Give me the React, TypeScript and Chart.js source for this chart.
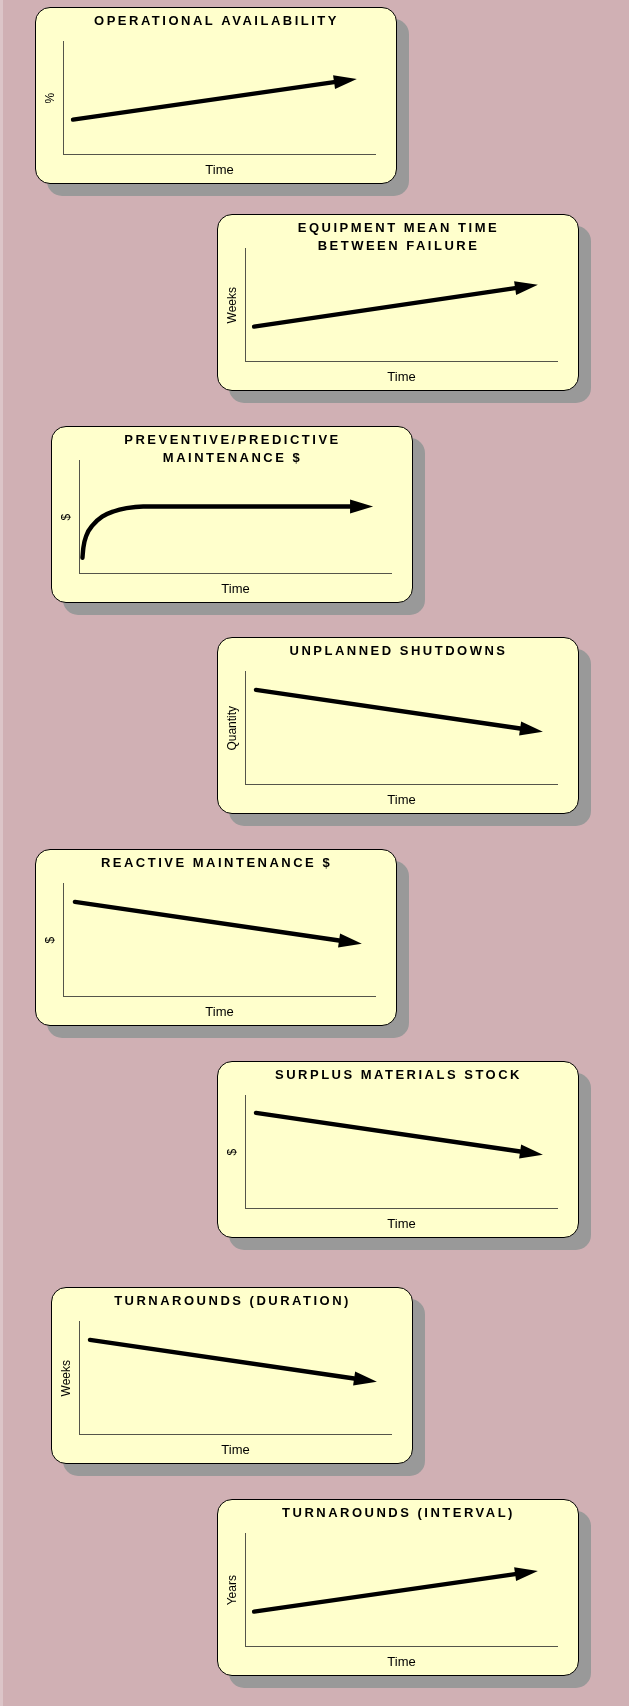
import React, { useEffect, useRef } from 'react';
import { Chart, registerables } from 'chart.js';

Chart.register(...registerables);

// ---- Data (units are arbitrary 0–100 on both axes) ----
const chartTitles: (string | string[])[] = [
  'OPERATIONAL AVAILABILITY',
  ['EQUIPMENT MEAN TIME', 'BETWEEN FAILURE'],
  ['PREVENTIVE/PREDICTIVE', 'MAINTENANCE $'],
  'UNPLANNED SHUTDOWNS',
  'REACTIVE MAINTENANCE $',
  'SURPLUS MATERIALS STOCK',
  'TURNAROUNDS (DURATION)',
  'TURNAROUNDS (INTERVAL)',
];
const yAxisLabels = ['%', 'Weeks', '$', 'Quantity', '$', '$', 'Weeks', 'Years'];
const xAxisLabel = 'Time';

const operationalAvailability = [{ x: 3.2, y: 31 }, { x: 86.6, y: 64.3 }];
const equipmentMtbf = [{ x: 2.9, y: 31 }, { x: 86.3, y: 65.2 }];
const preventiveMaintenance = [
  { x: 1.1, y: 14 },
  { x: 1.4, y: 23 },
  { x: 2.4, y: 34 },
  { x: 4.4, y: 43 },
  { x: 7.4, y: 50.5 },
  { x: 11.0, y: 55.1 },
  { x: 15.2, y: 58.1 },
  { x: 20.5, y: 59.6 },
  { x: 86.6, y: 59.6 },
];
const unplannedShutdowns = [{ x: 3.5, y: 84.1 }, { x: 87.9, y: 49.8 }];
const reactiveMaintenance = [{ x: 3.8, y: 84.1 }, { x: 88.2, y: 49.8 }];
const surplusStock = [{ x: 3.5, y: 85 }, { x: 87.9, y: 50.7 }];
const turnaroundDuration = [{ x: 3.5, y: 84.1 }, { x: 87.9, y: 49.8 }];
const turnaroundInterval = [{ x: 2.9, y: 31 }, { x: 86.3, y: 64.3 }];

const seriesList = [
  operationalAvailability,
  equipmentMtbf,
  preventiveMaintenance,
  unplannedShutdowns,
  reactiveMaintenance,
  surplusStock,
  turnaroundDuration,
  turnaroundInterval,
];
const curvedSeries = [false, false, true, false, false, false, false, false];

// ---- Layout / style (kept apart from data) ----
const cardPositions: [number, number][] = [
  [35, 7],
  [217, 214],
  [51, 426],
  [217, 637],
  [35, 849],
  [217, 1061],
  [51, 1287],
  [217, 1499],
];
const CARD_W = 362;
const CARD_H = 177;
const PAGE_BG = '#D0B0B4';
const PAGE_EDGE = '#DCC5C8';
const CARD_BG = '#FFFFCC';
const SHADOW = '#999999';
const AXIS_COLOR = '#55554a';
const FONT_FAMILY = "'Liberation Sans', Arial, Helvetica, sans-serif";

const arrowHeadPlugin = {
  id: 'arrowHeadAndSpacing',
  beforeDraw(chart: any) {
    (chart.ctx as any).letterSpacing = '2.5px';
  },
  afterDatasetsDraw(chart: any) {
    const ctx = chart.ctx as CanvasRenderingContext2D;
    chart.data.datasets.forEach((_ds: any, i: number) => {
      const pts = chart.getDatasetMeta(i).data;
      if (pts.length < 2) return;
      const a = pts[pts.length - 2];
      const b = pts[pts.length - 1];
      const dx = b.x - a.x;
      const dy = b.y - a.y;
      const len = Math.hypot(dx, dy) || 1;
      const ux = dx / len;
      const uy = dy / len;
      const headLen = 23;
      const halfW = 7;
      ctx.save();
      ctx.fillStyle = '#000000';
      ctx.beginPath();
      ctx.moveTo(b.x + ux * headLen, b.y + uy * headLen);
      ctx.lineTo(b.x - uy * halfW, b.y + ux * halfW);
      ctx.lineTo(b.x + uy * halfW, b.y - ux * halfW);
      ctx.closePath();
      ctx.fill();
      ctx.restore();
    });
    (ctx as any).letterSpacing = '0px';
  },
  afterDraw(chart: any) {
    (chart.ctx as any).letterSpacing = '0px';
  },
};

function TrendCard({ index }: { index: number }) {
  const canvasRef = useRef<HTMLCanvasElement | null>(null);

  useEffect(() => {
    const canvas = canvasRef.current;
    if (!canvas) return;
    const title = chartTitles[index];
    const lines = Array.isArray(title) ? title.length : 1;
    const hiddenGrid = {
      display: true,
      drawTicks: false,
      color: 'rgba(0,0,0,0)',
      lineWidth: 0,
      z: 1,
    };
    const axisBorder = { display: true, color: AXIS_COLOR, width: 1, z: 1 };
    const chart = new Chart(canvas, {
      type: 'line',
      data: {
        datasets: [
          {
            data: seriesList[index],
            borderColor: '#000000',
            borderWidth: 4.4,
            borderCapStyle: 'round',
            borderJoinStyle: 'round',
            pointRadius: 0,
            pointHoverRadius: 0,
            fill: false,
            tension: 0,
            cubicInterpolationMode: curvedSeries[index] ? 'monotone' : 'default',
            clip: false,
          } as any,
        ],
      },
      options: {
        responsive: false,
        animation: false,
        events: [],
        layout: { padding: { left: 22, right: 21, top: 2, bottom: 2 } },
        plugins: {
          legend: { display: false },
          tooltip: { enabled: false },
          title: {
            display: true,
            text: title as any,
            color: '#000000',
            font: { family: FONT_FAMILY, size: 13, weight: 'bold', lineHeight: 1.33 },
            padding: { top: 4.0, bottom: lines === 1 ? 11.7 : -5.6 },
          },
        },
        scales: {
          x: {
            type: 'linear',
            min: 0,
            max: 100,
            ticks: { display: false },
            grid: hiddenGrid as any,
            border: axisBorder as any,
            title: {
              display: true,
              text: xAxisLabel,
              color: '#000000',
              font: { family: FONT_FAMILY, size: 13, lineHeight: 1.2 },
              padding: { top: 8.0, bottom: 3.9 },
            },
          },
          y: {
            type: 'linear',
            min: 0,
            max: 100,
            ticks: { display: false },
            grid: hiddenGrid as any,
            border: axisBorder as any,
            title: {
              display: true,
              text: yAxisLabels[index],
              color: '#000000',
              font: { family: FONT_FAMILY, size: 12, lineHeight: 1.2 },
              padding: { top: -13.4, bottom: 5.0 },
            },
          },
        },
      } as any,
      plugins: [arrowHeadPlugin as any],
    });
    return () => chart.destroy();
  }, [index]);

  const [left, top] = cardPositions[index];
  return (
    <div style={{ position: 'absolute', left, top, width: CARD_W, height: CARD_H }}>
      <div
        style={{
          position: 'absolute',
          left: 0,
          top: 0,
          width: CARD_W,
          height: CARD_H,
          boxSizing: 'border-box',
          border: '1px solid #000000',
          borderRadius: 15,
          background: CARD_BG,
          boxShadow: `12px 12px 0 0 ${SHADOW}`,
        }}
      />
      <canvas
        ref={canvasRef}
        width={CARD_W}
        height={CARD_H}
        style={{ position: 'absolute', left: 0, top: 0, width: CARD_W, height: CARD_H }}
      />
    </div>
  );
}

export default function App() {
  useEffect(() => {
    document.body.style.margin = '0';
  }, []);
  return (
    <div
      style={{
        position: 'absolute',
        left: 0,
        top: 0,
        width: 629,
        height: 1706,
        background: PAGE_BG,
        overflow: 'hidden',
      }}
    >
      <div
        style={{
          position: 'absolute',
          left: 0,
          top: 0,
          width: 3,
          height: 1706,
          background: PAGE_EDGE,
        }}
      />
      {seriesList.map((_s, i) => (
        <TrendCard key={i} index={i} />
      ))}
    </div>
  );
}
